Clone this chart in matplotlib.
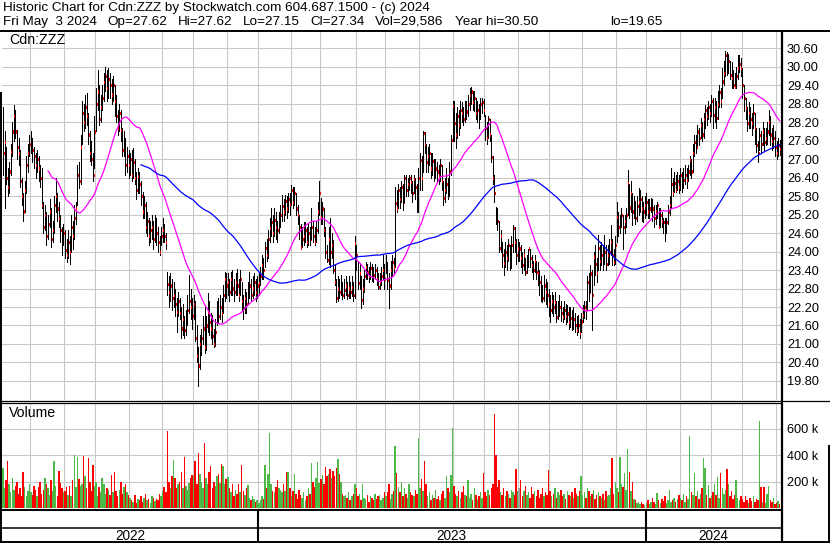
import numpy as np
import pandas as pd
import matplotlib
matplotlib.use('Agg')
import matplotlib.pyplot as plt
from matplotlib.collections import LineCollection

plt.rcParams['font.family'] = ['Liberation Sans', 'DejaVu Sans']

# TSX holidays in the window (used to build the trading-day calendar)
holidays = ['2022-05-23', '2022-07-01', '2022-08-01', '2022-09-05', '2022-10-10',
            '2022-12-26', '2022-12-27', '2023-01-02', '2023-02-20', '2023-04-07',
            '2023-05-22', '2023-07-03', '2023-08-07', '2023-09-04', '2023-10-09',
            '2023-12-25', '2023-12-26', '2024-01-01', '2024-02-19', '2024-03-29']

# daily closes, one row per month (May 2022 .. May 2024)
close = [
    27.20, 27.55, 26.40, 26.10, 26.60, 27.25, 27.90, 28.40, 27.90, 27.40, 27.20, 26.30, 25.80, 25.30, 26.00, 26.80, 27.20, 27.50,
    27.60, 27.30, 27.10, 26.80, 27.00, 26.70, 26.40, 25.50, 24.80, 25.20, 24.50, 24.90, 25.30, 24.40, 24.70, 25.50, 25.80, 25.40, 25.10, 24.70, 24.40, 24.60,
    24.05, 23.90, 24.30, 24.00, 24.80, 24.50, 25.10, 25.40, 26.50, 26.30, 27.40, 28.50, 28.20, 28.70, 28.40, 27.80, 27.20, 27.00, 26.50, 27.90,
    28.80, 29.20, 28.30, 28.70, 29.00, 29.50, 29.70, 29.30, 29.60, 29.40, 29.10, 29.40, 28.90, 28.40, 28.00, 28.50, 27.95, 27.30, 27.60, 26.80, 27.10, 26.80,
    27.00, 26.50, 26.90, 26.40, 26.00, 26.45, 26.20, 25.80, 25.30, 25.50, 24.80, 25.00, 24.50, 24.70, 24.80, 24.40, 24.90, 24.60, 24.30, 24.00, 24.50,
    24.70, 24.50, 24.30, 22.95, 22.70, 22.90, 22.50, 22.60, 22.30, 22.05, 22.40, 22.00, 21.50, 21.80, 21.45, 21.70, 22.10, 22.40, 22.20, 21.90,
    22.30, 21.20, 20.60, 20.30, 21.00, 21.20, 21.50, 20.90, 21.60, 22.05, 21.70, 21.50, 21.25, 21.00, 21.40, 22.10, 21.90, 22.20, 22.00, 22.60, 23.10, 22.90,
    23.00, 22.70, 23.10, 22.80, 22.70, 23.00, 22.90, 22.60, 23.10, 22.40, 22.16, 22.50, 22.30, 22.65, 22.90, 22.60, 22.80, 23.00, 22.70, 22.90,
    22.97, 23.20, 23.56, 23.40, 24.11, 23.90, 24.40, 24.76, 24.95, 24.60, 25.03, 24.80, 24.70, 25.00, 25.20, 25.47, 25.30, 25.63, 25.40, 25.70, 25.55,
    26.00, 25.60, 25.90, 25.40, 25.20, 24.80, 24.13, 24.40, 24.50, 24.70, 24.30, 24.60, 24.40, 24.80, 24.50, 24.30, 24.70, 25.30, 25.90,
    25.13, 25.40, 24.70, 24.00, 23.73, 24.40, 24.00, 24.20, 23.40, 23.02, 22.48, 22.80, 22.70, 22.90, 22.60, 22.75, 22.90, 22.60, 22.80, 22.70, 22.85, 22.60, 24.27,
    23.90, 22.97, 23.30, 22.43, 22.80, 23.20, 23.51, 23.35, 23.20, 23.46, 23.30, 23.24, 23.40, 23.10, 22.86, 23.00, 23.20, 23.40, 23.10,
    23.56, 23.08, 22.90, 23.40, 23.67, 23.50, 25.58, 25.40, 26.00, 25.70, 26.10, 25.60, 26.38, 26.00, 26.20, 26.40, 26.25, 25.90, 26.35, 26.10, 25.40, 26.40,
    26.97, 26.40, 27.84, 27.50, 26.90, 27.10, 27.20, 26.70, 26.95, 26.55, 26.70, 26.60, 26.45, 26.80, 26.30, 25.73, 26.00, 26.20, 25.95, 26.63, 27.63, 28.74,
    28.17, 27.80, 28.40, 28.10, 28.60, 28.49, 28.30, 28.70, 28.55, 28.80, 29.08, 29.20, 28.87, 29.00, 28.49, 28.60, 28.40, 28.80, 28.87, 28.60,
    28.00, 27.70, 28.30, 27.80, 27.08, 26.40, 25.90, 25.25, 25.00, 24.11, 24.50, 23.90, 23.62, 24.00, 23.80, 24.20, 23.70, 24.20, 24.76, 24.30, 23.90, 24.10,
    24.10, 23.80, 23.56, 23.90, 23.35, 23.60, 24.10, 23.80, 23.56, 23.40, 23.70, 23.35, 23.30, 23.00, 22.70, 22.48, 22.90, 22.70, 22.60, 22.30,
    22.10, 22.40, 22.20, 22.37, 21.88, 22.10, 22.21, 22.00, 21.88, 22.10, 21.90, 21.99, 21.70, 21.85, 21.67, 21.80, 21.62, 21.45, 21.62, 21.35, 21.73,
    21.94, 22.20, 22.10, 23.02, 22.70, 23.29, 22.60, 23.84, 23.60, 23.30, 24.11, 23.70, 23.90, 23.70, 24.00, 23.60, 23.90, 24.00, 24.30, 23.90, 23.67, 24.20,
    25.13, 24.80, 25.00, 25.20, 24.80, 25.00, 25.20, 26.22, 25.43, 25.90, 25.30, 25.60, 25.10, 25.47, 25.60, 25.70, 25.40, 25.30, 25.50,
    25.60, 25.30, 25.40, 25.67, 25.40, 25.08, 25.30, 25.50, 24.80, 25.20, 25.00, 24.95, 24.70, 24.95, 25.30, 25.51, 26.20, 25.90, 26.22, 26.00, 26.30, 26.10,
    26.50, 26.20, 26.33, 26.50, 26.33, 26.60, 26.97, 26.60, 27.20, 27.57, 27.40, 27.90, 27.70, 28.11, 27.80, 28.30, 28.60, 28.40, 28.70, 28.50,
    28.90, 28.44, 28.70, 28.33, 28.80, 29.19, 28.90, 29.52, 29.80, 30.38, 29.90, 30.20, 29.73, 29.63, 29.40, 29.35, 29.70, 29.95, 30.10, 29.95,
    29.40, 28.98, 28.65, 28.17, 28.49, 28.30, 28.17, 28.50, 28.00, 27.46, 27.20, 27.79, 27.50, 27.90, 27.57, 27.70, 27.90, 28.20, 27.80, 27.60, 27.70, 27.40,
    27.20, 27.45, 27.34,
]

high = [
    28.70, 27.90, 27.40, 26.70, 26.90, 27.50, 28.20, 28.75, 28.60, 27.95, 27.70, 27.30, 26.40, 25.90, 26.30, 27.10, 27.50, 27.80,
    27.90, 27.70, 27.40, 27.20, 27.30, 27.10, 26.80, 26.70, 25.60, 25.50, 25.30, 25.20, 25.70, 25.40, 25.00, 25.80, 26.40, 25.90, 25.60, 25.20, 24.80, 24.90,
    24.70, 24.40, 24.70, 24.50, 25.20, 25.00, 25.50, 25.60, 26.80, 26.90, 27.80, 28.90, 28.80, 29.10, 29.15, 28.50, 27.90, 27.60, 27.20, 28.40,
    29.30, 29.90, 29.40, 29.10, 29.40, 29.80, 30.00, 29.90, 29.95, 29.80, 29.60, 29.70, 29.40, 29.10, 28.60, 28.80, 28.60, 28.00, 27.90, 27.70, 27.40, 27.30,
    27.20, 27.30, 27.35, 27.00, 26.60, 26.70, 26.60, 26.30, 25.95, 25.80, 25.60, 25.30, 25.10, 25.00, 25.20, 25.00, 25.20, 25.10, 24.80, 24.50, 24.80,
    25.10, 24.90, 24.60, 23.35, 23.20, 23.30, 23.10, 23.00, 22.80, 22.50, 22.70, 22.50, 22.20, 22.30, 21.90, 22.10, 22.60, 23.25, 22.80, 22.50,
    22.60, 22.40, 21.60, 20.90, 21.30, 21.50, 21.90, 22.27, 21.90, 22.65, 22.40, 22.00, 21.95, 21.50, 21.80, 22.40, 22.50, 22.60, 22.50, 22.90, 23.35, 23.30,
    23.30, 23.10, 23.35, 23.40, 23.10, 23.30, 23.45, 23.10, 23.40, 23.00, 22.60, 22.80, 22.70, 23.00, 23.35, 23.10, 23.20, 23.30, 23.10, 23.20,
    23.30, 23.50, 23.90, 23.80, 24.30, 24.40, 24.70, 25.10, 25.40, 25.20, 25.40, 25.30, 25.00, 25.30, 25.50, 25.85, 25.70, 25.85, 25.80, 25.90, 25.90,
    26.15, 26.10, 26.10, 25.90, 25.50, 25.20, 24.90, 24.80, 24.95, 24.95, 24.80, 24.90, 24.80, 25.40, 25.00, 24.80, 25.00, 25.60, 26.28,
    25.73, 25.60, 25.40, 24.80, 24.20, 24.80, 25.10, 24.60, 24.38, 23.60, 23.10, 23.20, 23.10, 23.25, 23.00, 23.10, 23.20, 23.00, 23.20, 23.00, 23.20, 23.00, 24.50,
    24.20, 23.66, 23.60, 23.20, 23.10, 23.40, 23.66, 23.60, 23.50, 23.66, 23.60, 23.50, 23.60, 23.50, 23.30, 23.30, 23.50, 23.90, 23.60,
    23.90, 23.66, 23.30, 23.70, 23.90, 23.80, 26.10, 26.00, 26.20, 26.10, 26.30, 26.20, 26.50, 26.50, 26.40, 26.50, 26.50, 26.30, 26.50, 26.40, 26.20, 26.70,
    27.20, 27.10, 27.90, 27.88, 27.50, 27.40, 27.50, 27.20, 27.20, 27.00, 27.00, 26.90, 26.80, 27.00, 26.80, 26.30, 26.40, 26.70, 26.40, 26.90, 27.80, 28.90,
    28.90, 28.50, 28.70, 28.60, 28.90, 28.85, 28.70, 28.90, 28.90, 29.10, 29.30, 29.35, 29.20, 29.20, 29.00, 28.90, 28.80, 28.98, 29.00, 28.95,
    28.43, 28.20, 28.40, 28.30, 27.80, 27.10, 26.50, 25.45, 25.40, 25.00, 24.70, 24.30, 24.10, 24.30, 24.20, 24.40, 24.20, 24.50, 24.87, 24.80, 24.40, 24.40,
    24.30, 24.20, 24.00, 24.10, 23.80, 23.90, 24.10, 24.10, 23.90, 23.70, 23.90, 23.70, 23.66, 23.40, 23.20, 22.90, 23.25, 23.10, 23.00, 22.80,
    22.60, 22.70, 22.60, 22.70, 22.40, 22.40, 22.60, 22.40, 22.20, 22.40, 22.30, 22.27, 22.20, 22.20, 22.10, 22.20, 22.00, 21.90, 21.94, 21.80, 22.00,
    22.27, 22.40, 22.40, 23.20, 23.30, 23.56, 23.40, 24.00, 24.20, 23.80, 24.55, 24.20, 24.30, 24.20, 24.55, 24.20, 24.20, 24.40, 24.87, 24.40, 24.10, 24.50,
    25.60, 25.30, 25.20, 25.40, 25.20, 25.20, 25.40, 26.65, 26.20, 26.28, 25.90, 25.80, 25.60, 25.80, 26.08, 26.00, 25.80, 25.60, 25.80,
    25.90, 25.70, 25.70, 25.74, 25.70, 25.50, 25.50, 25.60, 25.40, 25.40, 25.30, 25.10, 25.10, 25.10, 25.50, 25.80, 26.70, 26.40, 26.60, 26.50, 26.60, 26.50,
    26.70, 26.60, 26.70, 26.80, 26.70, 26.80, 27.10, 27.00, 27.50, 27.80, 27.80, 28.10, 28.00, 28.33, 28.20, 28.50, 28.76, 28.70, 28.90, 28.80,
    29.10, 29.00, 29.00, 28.90, 29.20, 29.40, 29.30, 29.96, 30.20, 30.50, 30.48, 30.40, 30.20, 30.15, 29.90, 29.80, 30.00, 30.38, 30.38, 30.30,
    29.96, 29.40, 29.00, 28.70, 28.85, 28.70, 28.50, 28.80, 28.50, 28.00, 27.60, 28.00, 27.90, 28.20, 28.00, 28.00, 28.20, 28.60, 28.40, 28.00, 28.10, 27.90,
    27.60, 27.70, 27.62,
]

low = [
    26.50, 25.40, 26.20, 25.80, 25.90, 26.50, 27.10, 27.60, 27.70, 27.00, 26.80, 26.10, 25.50, 25.00, 25.30, 25.90, 26.60, 27.10,
    27.20, 26.90, 26.70, 26.40, 26.60, 26.30, 26.10, 25.40, 24.60, 24.70, 24.20, 24.40, 24.80, 24.15, 24.30, 24.60, 25.30, 25.00, 24.80, 24.30, 23.90, 24.20,
    23.80, 23.65, 23.80, 23.60, 24.00, 24.10, 24.40, 24.90, 25.50, 26.05, 26.20, 27.50, 27.90, 28.00, 28.10, 27.50, 26.95, 26.80, 26.30, 26.70,
    27.90, 28.60, 28.10, 28.20, 28.60, 28.90, 29.20, 28.90, 29.00, 29.00, 28.80, 28.90, 28.40, 28.20, 27.80, 27.90, 27.60, 27.10, 27.10, 26.50, 26.60, 26.40,
    26.50, 26.30, 26.40, 26.20, 25.70, 25.90, 25.90, 25.50, 25.10, 25.10, 24.60, 24.50, 24.20, 24.30, 24.40, 24.10, 24.30, 24.20, 24.00, 23.90, 24.20,
    24.30, 24.30, 24.10, 22.60, 22.20, 22.40, 22.10, 22.20, 21.90, 21.40, 21.90, 21.80, 21.20, 21.30, 21.20, 21.30, 21.60, 22.00, 21.80, 21.50,
    21.80, 21.10, 20.40, 19.65, 20.20, 20.65, 21.00, 20.70, 20.80, 21.40, 21.30, 21.20, 21.00, 20.90, 20.95, 21.60, 21.70, 21.80, 21.70, 22.00, 22.40, 22.50,
    22.60, 22.40, 22.60, 22.60, 22.40, 22.60, 22.60, 22.40, 22.60, 22.10, 21.80, 22.00, 22.00, 22.30, 22.50, 22.40, 22.50, 22.60, 22.40, 22.50,
    22.60, 22.90, 23.10, 23.10, 23.50, 23.70, 23.80, 24.30, 24.50, 24.30, 24.50, 24.40, 24.30, 24.60, 24.80, 25.00, 25.00, 25.20, 25.10, 25.30, 25.20,
    25.50, 25.40, 25.50, 25.20, 24.90, 24.40, 24.10, 24.15, 24.20, 24.30, 24.15, 24.20, 24.20, 24.40, 24.30, 24.20, 24.30, 24.60, 25.20,
    24.90, 24.90, 24.50, 23.80, 23.66, 23.60, 23.50, 23.80, 23.30, 22.90, 22.37, 22.40, 22.50, 22.60, 22.45, 22.50, 22.60, 22.45, 22.50, 22.50, 22.55, 22.40, 22.50,
    23.40, 22.80, 22.80, 22.17, 22.30, 22.70, 23.10, 23.10, 23.02, 23.10, 23.05, 23.02, 23.10, 22.90, 22.80, 22.80, 22.90, 23.10, 22.80,
    23.30, 22.80, 22.17, 22.80, 23.20, 23.30, 23.50, 25.30, 25.40, 25.40, 25.60, 25.35, 25.60, 25.80, 25.80, 26.00, 25.90, 25.60, 25.90, 25.70, 25.30, 25.30,
    26.00, 26.00, 26.60, 27.20, 26.60, 26.60, 26.80, 26.40, 26.50, 26.30, 26.40, 26.30, 26.20, 26.30, 26.00, 25.50, 25.60, 25.90, 25.70, 25.80, 26.50, 27.60,
    27.60, 27.35, 27.70, 27.80, 28.00, 28.20, 28.10, 28.20, 28.30, 28.40, 28.60, 28.80, 28.60, 28.55, 28.30, 28.20, 28.00, 28.30, 28.50, 28.40,
    27.63, 27.50, 27.70, 27.60, 26.90, 26.20, 25.60, 24.90, 24.70, 24.00, 24.00, 23.50, 23.25, 23.50, 23.40, 23.70, 23.40, 23.46, 24.00, 24.00, 23.60, 23.70,
    23.70, 23.50, 23.30, 23.40, 23.25, 23.30, 23.50, 23.50, 23.35, 23.10, 23.35, 23.10, 22.90, 22.60, 22.40, 22.37, 22.40, 22.30, 22.20, 21.90,
    21.72, 22.00, 21.90, 22.00, 21.72, 21.80, 21.90, 21.75, 21.72, 21.80, 21.65, 21.70, 21.50, 21.55, 21.45, 21.50, 21.40, 21.30, 21.40, 21.20, 21.40,
    21.70, 21.85, 21.80, 22.10, 22.40, 22.70, 21.45, 22.90, 23.25, 23.00, 23.40, 23.40, 23.56, 23.40, 23.60, 23.40, 23.56, 23.60, 23.90, 23.56, 23.56, 23.60,
    24.30, 24.50, 24.60, 24.80, 24.10, 24.60, 24.80, 25.20, 25.10, 25.30, 24.87, 25.10, 24.90, 25.00, 25.20, 25.30, 25.00, 24.97, 25.10,
    25.20, 25.10, 25.10, 25.30, 25.00, 24.80, 24.90, 25.10, 24.76, 24.80, 24.80, 24.60, 24.33, 24.60, 24.90, 25.20, 25.40, 25.80, 25.93, 25.93, 26.00, 25.90,
    26.00, 25.95, 26.07, 26.20, 26.07, 26.30, 26.50, 26.40, 26.60, 27.10, 27.20, 27.46, 27.46, 27.70, 27.60, 27.69, 28.00, 28.10, 28.30, 28.20,
    28.40, 28.00, 28.20, 28.00, 28.30, 28.70, 28.70, 28.98, 29.40, 29.70, 29.73, 29.80, 29.60, 29.30, 29.30, 29.30, 29.30, 29.60, 29.83, 29.70,
    29.00, 28.55, 28.30, 27.90, 28.00, 28.00, 27.80, 28.00, 27.50, 27.23, 26.92, 27.30, 27.23, 27.46, 27.30, 27.46, 27.50, 27.80, 27.46, 27.30, 27.35, 27.10,
    27.00, 27.10, 27.15,
]

# daily volume in thousands of shares
volume_k = [
    300, 150, 210, 360, 180, 120, 230, 140, 170, 200, 110, 150, 95, 270, 160, 90, 130, 180,
    120, 100, 170, 140, 90, 160, 200, 110, 140, 230, 180, 150, 100, 210, 130, 357, 170, 90, 282, 190, 150, 120,
    130, 160, 100, 170, 90, 210, 400, 160, 390, 220, 170, 180, 392, 240, 150, 377, 200, 130, 325, 170,
    200, 90, 160, 120, 230, 180, 110, 150, 140, 100, 250, 120, 270, 130, 90, 140, 200, 110, 160, 185, 120, 100,
    80, 60, 50, 100, 40, 70, 60, 90, 50, 80, 110, 60, 70, 40, 90, 80, 55, 70, 60, 110, 90,
    130, 160, 120, 584, 200, 150, 240, 362, 230, 150, 180, 200, 270, 150, 390, 170, 140, 190, 230, 250,
    240, 357, 180, 420, 260, 200, 150, 496, 230, 180, 270, 315, 150, 200, 170, 240, 260, 190, 332, 320, 180, 220,
    235, 150, 120, 180, 90, 140, 110, 185, 120, 327, 130, 100, 150, 175, 80, 60, 90, 70, 50, 60,
    40, 60, 90, 70, 327, 150, 260, 564, 180, 130, 120, 160, 210, 150, 140, 120, 180, 130, 277, 270, 150,
    90, 130, 255, 110, 70, 140, 100, 80, 120, 60, 90, 150, 110, 345, 200, 160, 230, 350, 190,
    220, 250, 180, 310, 240, 260, 295, 230, 280, 240, 300, 370, 255, 200, 110, 90, 100, 80, 120, 60, 90, 110, 180,
    150, 90, 110, 60, 185, 80, 70, 100, 50, 90, 80, 60, 110, 70, 90, 100, 60, 80, 120,
    90, 120, 180, 70, 110, 130, 468, 264, 160, 120, 200, 90, 150, 110, 80, 185, 120, 100, 90, 140, 110, 533,
    150, 220, 130, 357, 180, 90, 120, 60, 100, 80, 140, 70, 90, 60, 110, 130, 80, 240, 150, 120, 250, 604,
    170, 110, 90, 130, 80, 120, 170, 100, 90, 210, 80, 110, 60, 150, 100, 70, 90, 120, 80, 264,
    120, 90, 140, 100, 150, 180, 709, 400, 160, 210, 120, 100, 150, 90, 130, 110, 80, 140, 120, 100, 294, 130,
    150, 210, 90, 130, 170, 100, 120, 80, 160, 110, 130, 90, 140, 80, 110, 150, 90, 120, 100, 287,
    130, 90, 110, 150, 80, 120, 100, 140, 90, 110, 70, 130, 100, 90, 120, 80, 150, 110, 90, 130, 244,
    100, 120, 80, 150, 130, 90, 110, 140, 70, 100, 120, 90, 80, 110, 60, 130, 90, 100, 150, 377, 110, 200,
    150, 120, 387, 180, 160, 264, 140, 445, 270, 130, 200, 70, 60, 40, 50, 30, 45, 35, 25,
    40, 60, 30, 50, 80, 45, 35, 115, 60, 40, 70, 55, 90, 40, 65, 140, 50, 60, 80, 45, 70, 100,
    80, 60, 110, 50, 90, 70, 546, 120, 100, 264, 90, 130, 70, 110, 150, 377, 302, 100, 175, 80,
    90, 120, 185, 100, 237, 80, 264, 150, 110, 140, 294, 185, 90, 130, 70, 100, 210, 80, 60, 90,
    70, 50, 90, 60, 40, 80, 55, 90, 45, 70, 60, 659, 160, 50, 160, 40, 110, 170, 60, 45, 80, 35,
    40, 55, 29.586,
]

header1 = "Historic Chart for Cdn:ZZZ by Stockwatch.com 604.687.1500 - (c) 2024"
# second header line: (text, left x in pixels)
header2 = [("Fri May  3 2024", 3), ("Op=27.62", 107), ("Hi=27.62", 177.5),
           ("Lo=27.15", 242.5), ("Cl=27.34", 310), ("Vol=29,586", 375),
           ("Year hi=30.50", 455), ("lo=19.65", 610)]

n = len(close)
dates = pd.bdate_range(end='2024-05-03', periods=n, freq='C', holidays=holidays)
idx = np.arange(n)

cl = pd.Series(close)
ma_fast = cl.rolling(30).mean()
ma_slow = cl.rolling(90).mean()

# month / year boundaries (between trading days)
month_pos = [i - 0.5 for i in range(1, n) if dates[i].month != dates[i - 1].month]
year_pos = [i - 0.5 for i in range(1, n) if dates[i].year != dates[i - 1].year]

W, H = 830, 543
fig = plt.figure(figsize=(W / 100, H / 100), dpi=100)


def px_axes(x0, y0, x1, y1):
    return fig.add_axes([x0 / W, 1 - y1 / H, (x1 - x0) / W, (y1 - y0) / H])


xlim = (-0.65, n - 1 + 0.9)
grid_c = '#c8c8c8'
fs = 9.7

# ---- price panel
ax = px_axes(2, 31, 781, 400)
ax.set_xlim(*xlim)
ax.set_ylim(19.181, 31.162)
price_ticks = np.round(np.arange(19.8, 30.61, 0.6), 2)
ax.set_yticks(price_ticks)
ax.set_yticklabels([f'{v:.2f}' for v in price_ticks])
ax.yaxis.tick_right()
ax.tick_params(axis='y', length=0, pad=4.3, labelsize=9.2)
ax.set_xticks(month_pos)
ax.tick_params(axis='x', length=0, labelbottom=False)
ax.grid(True, color=grid_c, lw=0.75)
ax.set_axisbelow(True)
for s in ax.spines.values():
    s.set_visible(False)

segs, cols = [], []
for i in range(n):
    segs.append([(i, low[i]), (i, high[i])])
    cols.append('black')
    segs.append([(i + 0.4, close[i] - 0.035), (i + 0.4, close[i] + 0.035)])
    cols.append('red')
ax.add_collection(LineCollection(segs, colors=cols, linewidths=0.55, antialiaseds=False, zorder=3))
ax.plot(idx, ma_fast, color='#ff00ff', lw=0.9, zorder=4)
ax.plot(idx, ma_slow, color='#0000ff', lw=0.9, zorder=4)
ax.text(7 / 779, 1 - 9.5 / 369, 'Cdn:ZZZ', transform=ax.transAxes, fontsize=10.2,
        va='center', ha='left')

# ---- volume panel
axv = px_axes(2, 402.5, 781, 509)
axv.set_xlim(*xlim)
axv.set_ylim(-6, 798)
axv.set_yticks([200, 400, 600])
axv.set_yticklabels(['200 k', '400 k', '600 k'])
axv.yaxis.tick_right()
axv.tick_params(axis='y', length=0, pad=4.3, labelsize=9.2)
axv.set_xticks(month_pos)
axv.tick_params(axis='x', length=0, labelbottom=False)
axv.grid(True, color=grid_c, lw=0.75)
axv.set_axisbelow(True)
for s in axv.spines.values():
    s.set_visible(False)

vcol = ['#4cb848']
for i in range(1, n):
    if close[i] > close[i - 1]:
        vcol.append('#4cb848')
    elif close[i] < close[i - 1]:
        vcol.append('#ff0000')
    else:
        vcol.append('#a0a0a0')
axv.bar(idx, volume_k, width=0.95, color=vcol, linewidth=0, antialiased=False, zorder=3)
axv.text(7 / 779, 1 - 10.5 / 106.5, 'Volume', transform=axv.transAxes, fontsize=10.2,
         va='center', ha='left')

# ---- date band
axd = px_axes(2, 509, 781, 542)
axd.set_xlim(*xlim)
axd.set_ylim(0, 1)
axd.axis('off')
bounds = [xlim[0]] + year_pos + [xlim[1]]
years = [dates[0].year + k for k in range(len(bounds) - 1)]
for k, yr in enumerate(years):
    axd.text((bounds[k] + bounds[k + 1]) / 2, 0.19, str(yr), ha='center', va='center',
             fontsize=9.8)
for p in year_pos:
    axd.plot([p, p], [0, 1], color='black', lw=1.5, solid_capstyle='butt')

# ---- frame lines and header, in pixel coordinates
ov = fig.add_axes([0, 0, 1, 1], zorder=10)
ov.set_xlim(0, W)
ov.set_ylim(H, 0)
ov.axis('off')
ov.patch.set_alpha(0)


def hline(y, x0, x1, lw):
    ov.plot([x0, x1], [y, y], color='black', lw=lw, solid_capstyle='butt')


def vline(x, y0, y1, lw):
    ov.plot([x, x], [y0, y1], color='black', lw=lw, solid_capstyle='butt')


hline(30.5, 0, W, 1.4)
hline(400.5, 0, W, 0.9)
hline(403, 0, 782, 0.9)
hline(509.5, 0, 782, 1.4)
hline(527.5, 0, 782, 1.1)
hline(541.8, 0, W, 1.4)
vline(1, 92, H, 1.4)
vline(782, 30, H, 1.6)
vline(828.8, 445, H, 1.4)

ov.text(3, 8.5, header1, fontsize=fs, va='center', ha='left')
for txt, x in header2:
    ov.text(x, 22, txt, fontsize=fs, va='center', ha='left')

fig.savefig('out.png', dpi=100)
